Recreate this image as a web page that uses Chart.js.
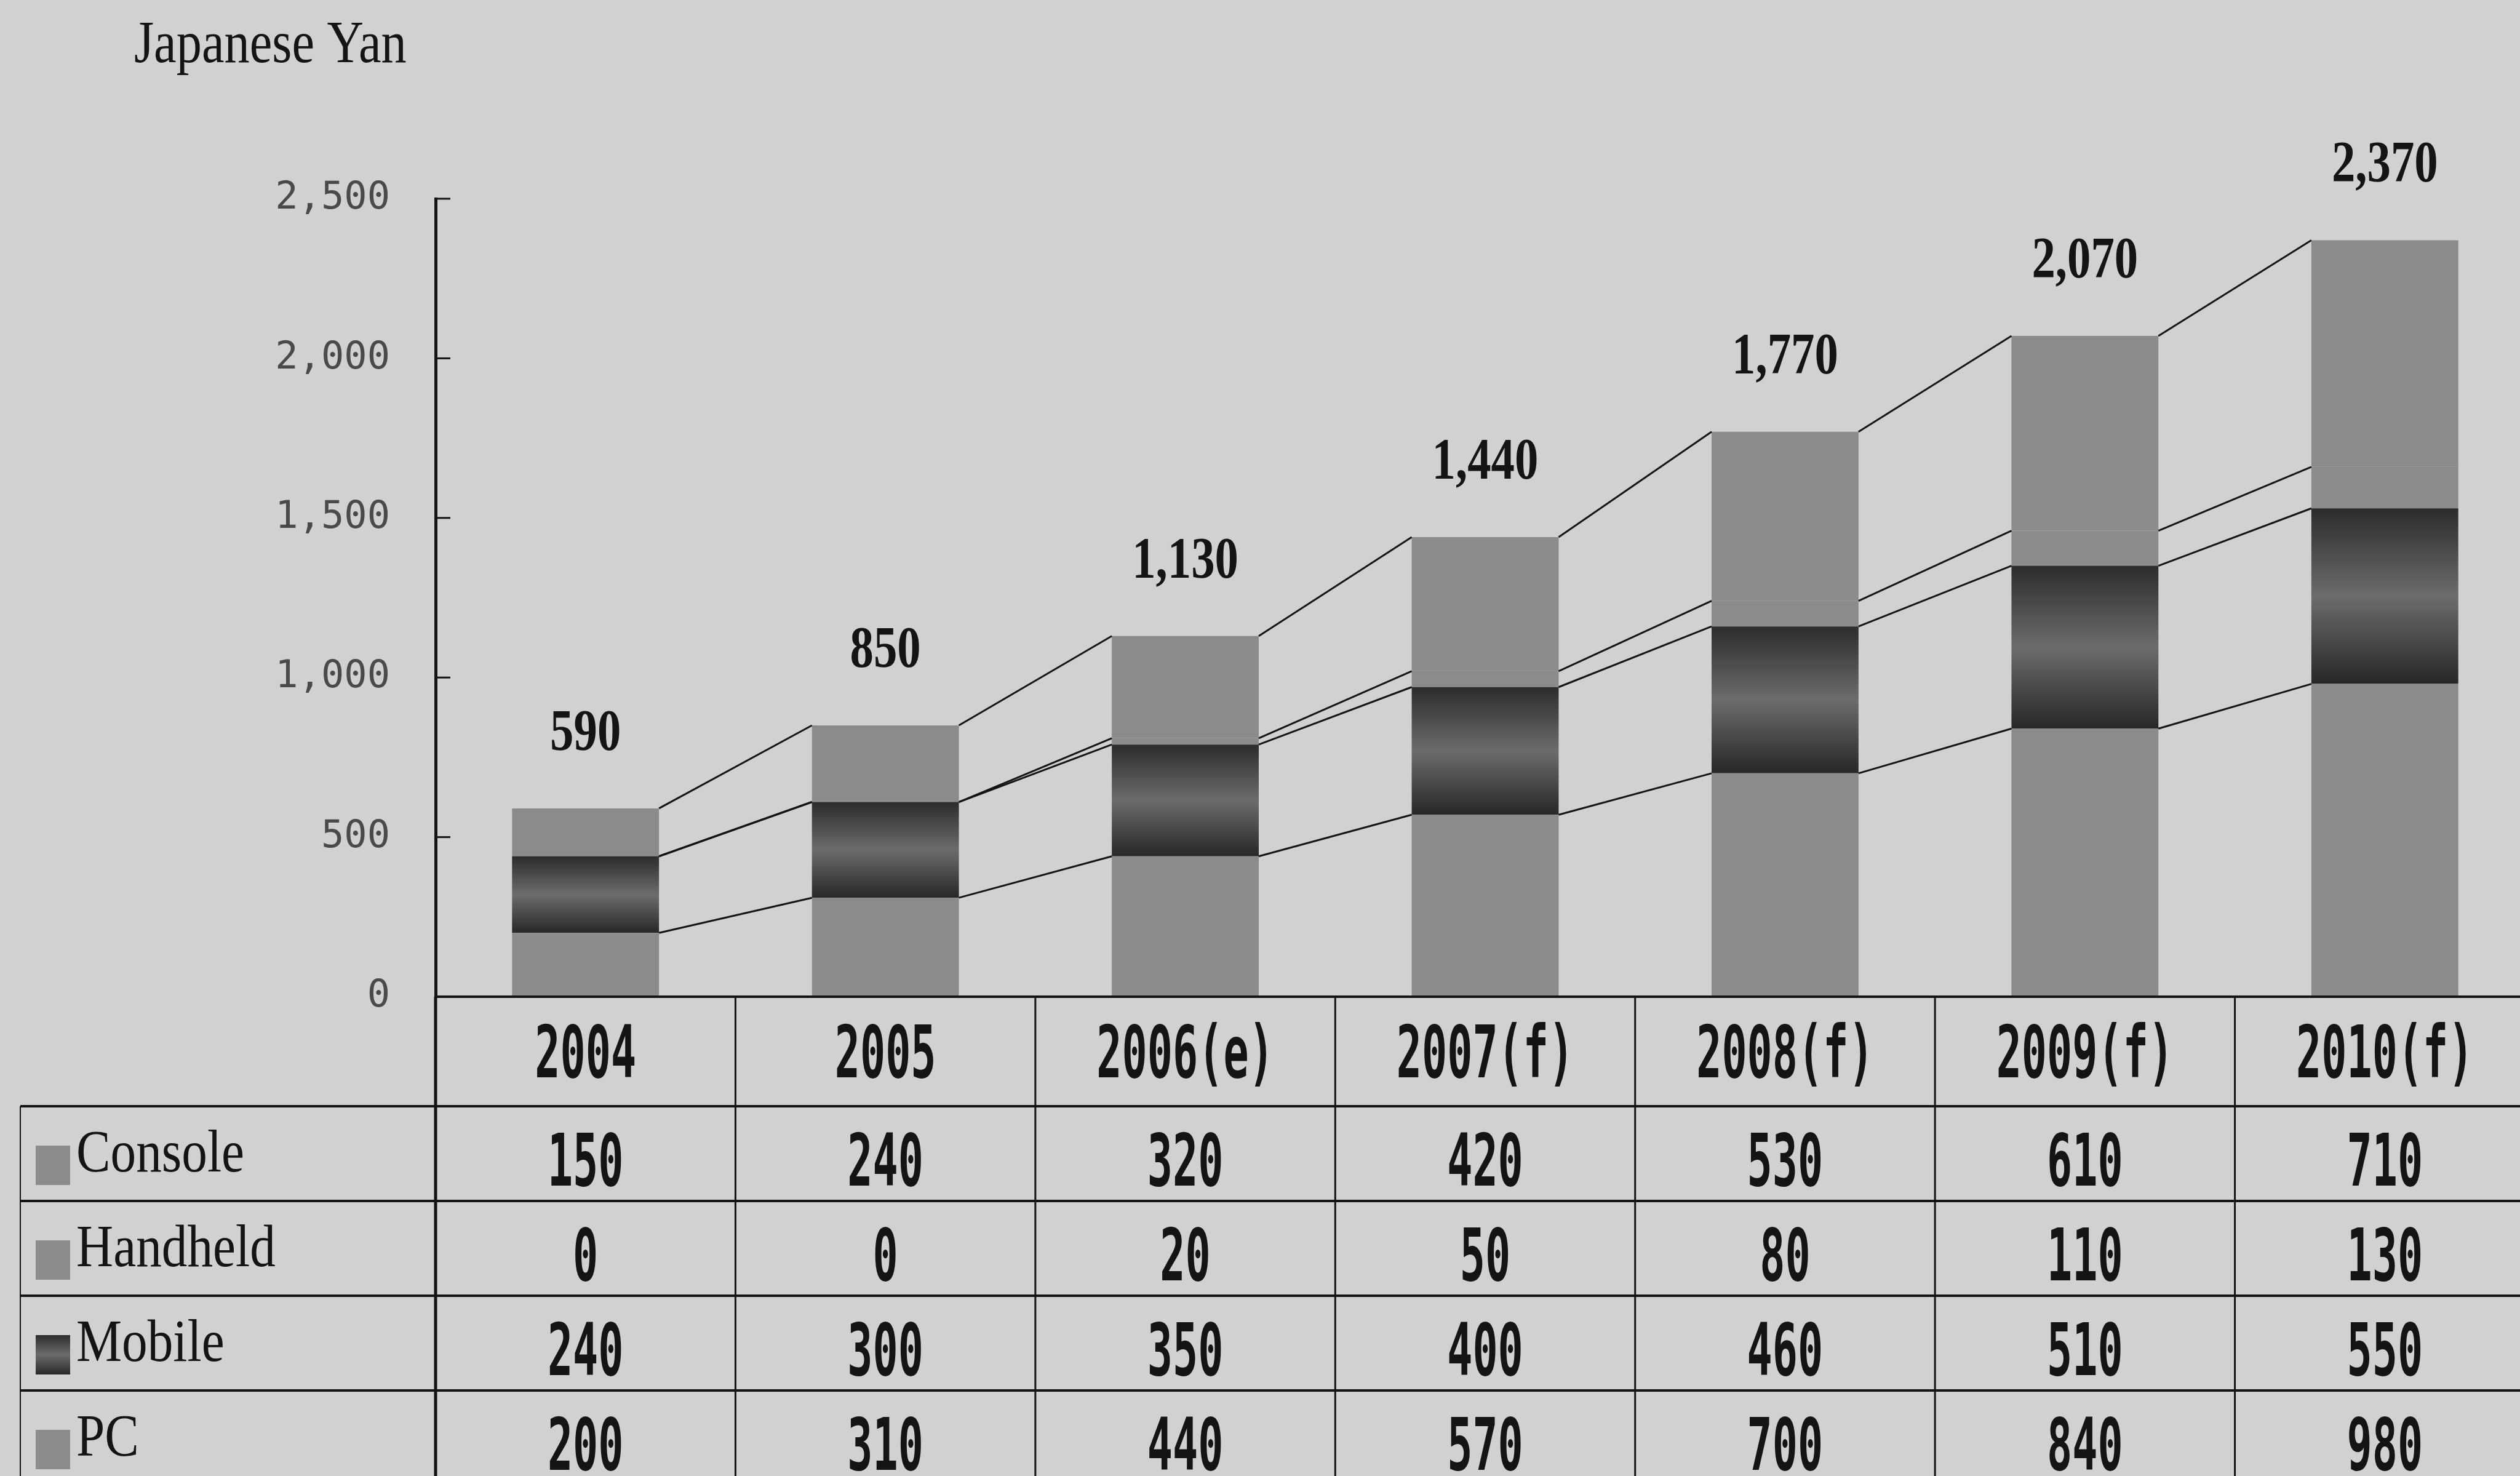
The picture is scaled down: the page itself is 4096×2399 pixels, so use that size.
<!DOCTYPE html>
<html>
<head>
<meta charset="utf-8">
<title>Game market - Japanese Yan</title>
<script src="https://cdn.jsdelivr.net/npm/chart.js@4.4.0/dist/chart.umd.min.js"></script>
<style>
    html, body { margin: 0; padding: 0; width: 4096px; height: 2399px; overflow: hidden; background: #d1d1d1; }
    canvas { display: block; }
</style>
</head>
<body>
<canvas id="market-chart" width="4124" height="2399"></canvas>
<script>
'use strict';

//DATA
let years = ['2004', '2005', '2006(e)', '2007(f)', '2008(f)', '2009(f)', '2010(f)'];
let consoleValues = [150, 240, 320, 420, 530, 610, 710];
let handheldValues = [0, 0, 20, 50, 80, 110, 130];
let mobileValues = [240, 300, 350, 400, 460, 510, 550];
let pcValues = [200, 310, 440, 570, 700, 840, 980];
let yTicks = [0, 500, 1000, 1500, 2000, 2500];
let unitLabel = 'Japanese Yan';

//COLOURS
let paper = '#d1d1d1';
let ink = '#141414';
let grey = '#8b8b8b';

//TABLE ROWS (top to bottom, as printed)
let tableRows = [
    {label: 'Console', values: consoleValues},
    {label: 'Handheld', values: handheldValues},
    {label: 'Mobile', values: mobileValues},
    {label: 'PC', values: pcValues}
];

function mobileGradient(c, top, bottom) {
    let g = c.createLinearGradient(0, top, 0, bottom);
    g.addColorStop(0, '#2c2c2c');
    g.addColorStop(0.5, '#6c6c6c');
    g.addColorStop(1, '#272727');
    return g;
}

// dark band with a lighter middle, like the printed one
function mobileFill(context) {
    let chart = context.chart;
    let y = chart.scales.y;
    if (!y || context.type !== 'data') {
        return '#4a4a4a';
    }
    let i = context.dataIndex;
    let top = y.getPixelForValue(pcValues[i] + mobileValues[i]);
    let bottom = y.getPixelForValue(pcValues[i]);
    if (!isFinite(top) || !isFinite(bottom) || top === bottom) {
        return '#4a4a4a';
    }
    return mobileGradient(chart.ctx, top, bottom);
}

// text squeezed sideways, the printed fonts are narrow
function drawText(c, text, x, y, font, sx, align) {
    c.save();
    c.font = font;
    c.textAlign = align || 'left';
    c.textBaseline = 'alphabetic';
    c.translate(x, y);
    c.scale(sx, 1);
    c.fillText(text, 0, 0);
    c.restore();
}

let tablePlugin = {
    id: 'dataTable',

    beforeDraw: function (chart) {
        let c = chart.ctx;
        c.save();
        c.fillStyle = paper;
        c.fillRect(0, 0, chart.width, chart.height);
        c.restore();
    },

    afterDatasetsDraw: function (chart) {
        let c = chart.ctx;
        let n = years.length;
        let metas = [0, 1, 2, 3].map(function (d) { return chart.getDatasetMeta(d); });

        //SERIES LINES BETWEEN THE BARS
        c.save();
        c.strokeStyle = ink;
        c.lineWidth = 3;
        metas.forEach(function (meta) {
            for (let i = 0; i < n - 1; i++) {
                let a = meta.data[i];
                let b = meta.data[i + 1];
                c.beginPath();
                c.moveTo(a.x + a.width / 2, a.y);
                c.lineTo(b.x - b.width / 2, b.y);
                c.stroke();
            }
        });

        //TOTALS ABOVE THE BARS
        let top = metas[3];
        c.fillStyle = ink;
        for (let i = 0; i < n; i++) {
            let total = consoleValues[i] + handheldValues[i] + mobileValues[i] + pcValues[i];
            let bar = top.data[i];
            drawText(c, total.toLocaleString('en-US'), bar.x, bar.y - 95,
                'bold 96px "Liberation Serif"', 0.8, 'center');
        }
        c.restore();
    },

    afterDraw: function (chart) {
        let c = chart.ctx;
        let area = chart.chartArea;
        let xs = chart.scales.x;
        let ys = chart.scales.y;
        let n = years.length;
        let colW = (area.right - area.left) / n;
        let headerH = 178;
        let rowH = 154;
        let tableLeft = 33;

        c.save();
        c.strokeStyle = ink;
        c.fillStyle = ink;

        //INWARD TICK MARKS
        c.lineWidth = 3;
        yTicks.forEach(function (v) {
            let py = ys.getPixelForValue(v);
            c.beginPath();
            c.moveTo(area.left, py);
            c.lineTo(area.left + 24, py);
            c.stroke();
        });

        //AXIS LINE GOES ON DOWN THROUGH THE TABLE
        c.lineWidth = 5;
        c.beginPath();
        c.moveTo(area.left, area.bottom);
        c.lineTo(area.left, chart.height);
        c.stroke();

        //COLUMN DIVIDERS
        c.lineWidth = 3;
        for (let i = 1; i <= n; i++) {
            let px = xs.getPixelForValue(i) - colW / 2;
            c.beginPath();
            c.moveTo(px, area.bottom);
            c.lineTo(px, chart.height);
            c.stroke();
        }

        //LEFT BORDER OF THE LEGEND COLUMN
        c.lineWidth = 2;
        c.beginPath();
        c.moveTo(tableLeft, area.bottom + headerH);
        c.lineTo(tableLeft, chart.height);
        c.stroke();

        //ROW LINES
        c.lineWidth = 4;
        c.beginPath();
        c.moveTo(area.left, area.bottom);
        c.lineTo(chart.width, area.bottom);
        c.stroke();
        for (let r = 0; r < tableRows.length; r++) {
            let py = area.bottom + headerH + r * rowH;
            c.beginPath();
            c.moveTo(tableLeft, py);
            c.lineTo(chart.width, py);
            c.stroke();
        }

        //HEADER
        let valueFont = 'bold 118px "DejaVu Sans Mono"';
        let headMid = area.bottom + headerH / 2;
        years.forEach(function (year, i) {
            drawText(c, year, xs.getPixelForValue(i), headMid + 42, valueFont, 0.58, 'center');
        });

        //ROWS
        tableRows.forEach(function (row, r) {
            let rowTop = area.bottom + headerH + r * rowH;
            let rowMid = rowTop + rowH / 2;

            //swatch
            let sx = 58, sy = rowTop + 64, sw = 56, sh = 64;
            c.fillStyle = row.label === 'Mobile' ? mobileGradient(c, sy, sy + sh) : grey;
            c.fillRect(sx, sy, sw, sh);

            c.fillStyle = ink;
            drawText(c, row.label, 124, rowTop + 106, '98px "Liberation Serif"', 0.85, 'left');

            row.values.forEach(function (v, i) {
                drawText(c, String(v), xs.getPixelForValue(i), rowMid + 52, valueFont, 0.58, 'center');
            });
        });

        //UNIT LABEL
        drawText(c, unitLabel, 218, 101, '97px "Liberation Serif"', 0.85, 'left');

        c.restore();
    }
};

new Chart(document.getElementById('market-chart'), {
    type: 'bar',
    data: {
        labels: years,
        datasets: [
            {label: 'PC', data: pcValues, backgroundColor: grey},
            {label: 'Mobile', data: mobileValues, backgroundColor: mobileFill},
            {label: 'Handheld', data: handheldValues, backgroundColor: grey},
            {label: 'Console', data: consoleValues, backgroundColor: grey}
        ]
    },
    options: {
        responsive: false,
        animation: false,
        layout: {padding: {left: 0, top: 323, right: 4, bottom: 779}},
        datasets: {
            bar: {barPercentage: 0.49, categoryPercentage: 1, borderWidth: 0}
        },
        plugins: {
            legend: {display: false},
            tooltip: {enabled: false}
        },
        scales: {
            x: {stacked: true, display: false},
            y: {
                stacked: true,
                min: 0,
                max: 2500,
                afterFit: function (scale) { scale.width = 708; },
                afterBuildTicks: function (scale) {
                    scale.ticks = yTicks.map(function (v) { return {value: v}; });
                },
                grid: {display: false, drawTicks: false},
                border: {display: true, color: ink, width: 5},
                ticks: {
                    padding: 74,
                    color: '#4a4a4a',
                    font: {family: 'DejaVu Sans Mono', size: 62},
                    callback: function (v) { return v.toLocaleString('en-US'); }
                }
            }
        }
    },
    plugins: [tablePlugin]
});
</script>
</body>
</html>
